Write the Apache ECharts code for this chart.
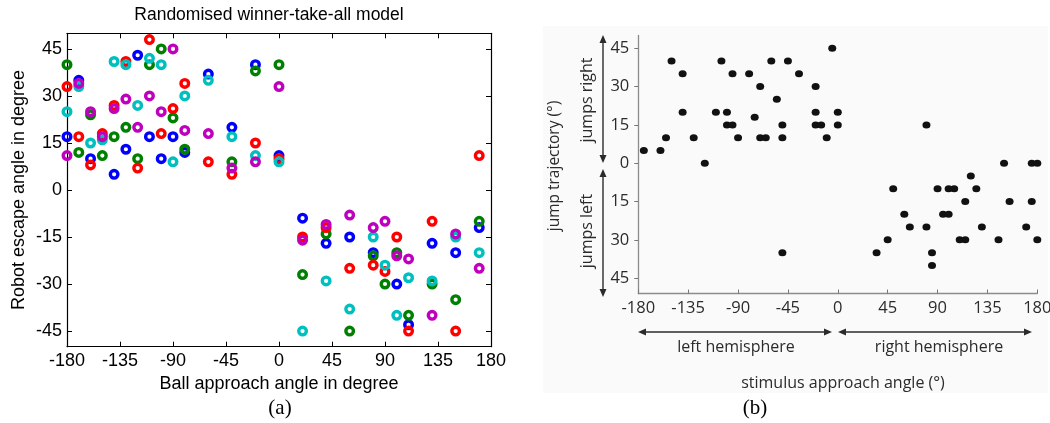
<!DOCTYPE html>
<html>
<head>
<meta charset="utf-8">
<script src="https://cdn.jsdelivr.net/npm/echarts@6/dist/echarts.min.js"></script>
<style>
  html, body { margin: 0; padding: 0; background: #fff; }
  #chart { width: 1050px; height: 423px; }
</style>
</head>
<body>
<div id="chart"></div>
<script>
// (a) Randomised winner-take-all model: [ball approach angle, robot escape angle], one run per colour
const runBlue = [[-180,17],[-170,35],[-160,10],[-140,5],[-130,13],[-120,43],[-110,17],[-100,10],[-90,17],[-80,12],[-60,37],[-40,20],[-20,40],[0,11],[20,-9],[40,-17],[60,-15],[80,-20],[100,-30],[110,-43],[130,-17],[150,-20],[170,-12]];
const runGreen = [[-180,40],[-170,12],[-160,24],[-150,11],[-140,17],[-130,20],[-120,10],[-110,40],[-100,45],[-90,23],[-80,13],[-40,9],[-20,38],[0,40],[20,-27],[40,-14],[60,-45],[80,-21],[90,-30],[100,-20],[110,-40],[130,-30],[150,-35],[170,-10]];
const runRed = [[-180,33],[-170,17],[-160,8],[-150,18],[-140,27],[-130,41],[-120,7],[-110,48],[-100,18],[-90,26],[-80,34],[-60,9],[-40,5],[-20,15],[0,10],[20,-15],[40,-12],[60,-25],[80,-24],[90,-26],[100,-15],[110,-45],[130,-10],[150,-45],[170,11]];
const runCyan = [[-180,25],[-170,33],[-160,15],[-150,16],[-140,41],[-130,40],[-120,27],[-110,42],[-100,40],[-90,9],[-80,30],[-60,35],[-40,17],[-20,11],[0,9],[20,-45],[40,-29],[60,-38],[80,-15],[90,-24],[100,-40],[110,-28],[130,-29],[150,-15],[170,-20]];
const runMagenta = [[-180,11],[-170,34],[-160,25],[-150,17],[-140,26],[-130,29],[-120,20],[-110,30],[-100,25],[-90,45],[-80,19],[-60,18],[-40,7],[-20,9],[0,33],[20,-16],[40,-11],[60,-8],[80,-12],[90,-10],[100,-21],[110,-22],[130,-40],[150,-14],[170,-25]];
const runs = [runBlue, runGreen, runRed, runCyan, runMagenta];
const runColors = ['#0000ff', '#008000', '#ff0000', '#00bfbf', '#bf00bf'];

// (b) jump trajectory against stimulus approach angle
const leftHemisphereJumps = [[-175,5],[-160,5],[-155,10],[-150,40],[-140,35],[-140,20],[-130,10],[-120,0],[-110,20],[-105,40],[-100,20],[-100,15],[-95,15],[-95,35],[-90,10],[-80,35],[-75,18],[-70,30],[-70,10],[-65,10],[-60,40],[-55,25],[-50,15],[-50,10],[-45,40],[-35,35],[-20,30],[-20,20],[-20,15],[-15,15],[-10,10],[-5,45],[0,20],[0,15],[-50,-35]];
const rightHemisphereJumps = [[35,-35],[45,-30],[50,-10],[60,-20],[65,-25],[80,-25],[80,15],[85,-35],[85,-40],[90,-10],[95,-20],[100,-20],[100,-10],[105,-10],[110,-30],[115,-30],[115,-15],[120,-5],[125,-10],[130,-25],[145,-30],[150,0],[155,-15],[170,-25],[175,0],[175,-15],[180,0],[180,-30]];

// Tick values and texts
const approachTicks = [-180, -135, -90, -45, 0, 45, 90, 135, 180];
const escapeTicks = [-45, -30, -15, 0, 15, 30, 45];
const trajectoryTicks = [-45, -30, -15, 0, 15, 30, 45];
const trajectoryTickLabels = ['45', '30', '15', '0', '15', '30', '45'];

const chart = echarts.init(document.getElementById('chart'), null, { renderer: 'canvas' });

const SANS_A = 'Liberation Sans, Arial, sans-serif';
const SANS_B = 'Open Sans, Noto Sans, sans-serif';
const INK_B = '#2b2b2b';

function boxAxis(extra) {
  return Object.assign({
    type: 'value',
    gridIndex: 0,
    axisLine: { show: true, onZero: false, lineStyle: { color: '#000', width: 1.2 } },
    axisTick: { show: true, inside: true, length: 5, lineStyle: { color: '#000', width: 1 } },
    axisLabel: { show: false },
    splitLine: { show: false }
  }, extra);
}

// Double-headed arrow drawn as a line with two filled heads
function doubleArrow(x1, y1, x2, y2) {
  const len = 8, half = 3.5;
  const dx = x2 - x1, dy = y2 - y1, d = Math.hypot(dx, dy);
  const ux = dx / d, uy = dy / d, px = -uy, py = ux;
  const head = (tx, ty, sx, sy) => ({
    type: 'polygon', silent: true,
    shape: { points: [[tx, ty],
      [tx - sx * len + px * half, ty - sy * len + py * half],
      [tx - sx * len - px * half, ty - sy * len - py * half]] },
    style: { fill: INK_B }
  });
  return [
    { type: 'line', silent: true,
      shape: { x1: x1 + ux * 4, y1: y1 + uy * 4, x2: x2 - ux * 4, y2: y2 - uy * 4 },
      style: { stroke: INK_B, lineWidth: 1.4 } },
    head(x2, y2, ux, uy),
    head(x1, y1, -ux, -uy)
  ];
}

function label(text, x, y, font, opts) {
  return Object.assign({
    type: 'text', silent: true, x: x, y: y,
    style: { text: text, font: font, fill: INK_B, align: 'center', verticalAlign: 'middle' }
  }, opts || {});
}

const graphic = [
  // soft panel backdrop of (b)
  { type: 'rect', silent: true, z: -10, shape: { x: 543, y: 26, width: 505, height: 367 }, style: { fill: '#fafafa' } },
  { type: 'text', silent: true, x: 269, y: 15,
    style: { text: 'Randomised winner-take-all model', font: '17.5px ' + SANS_A, fill: '#000', align: 'center', verticalAlign: 'middle' } },
  { type: 'text', silent: true, x: 280, y: 408,
    style: { text: '(a)', font: '21px Liberation Serif, Times New Roman, serif', fill: '#000', align: 'center', verticalAlign: 'middle' } },
  { type: 'text', silent: true, x: 755, y: 408,
    style: { text: '(b)', font: '21px Liberation Serif, Times New Roman, serif', fill: '#000', align: 'center', verticalAlign: 'middle' } },
  label('jump trajectory (°)', 555, 166, '15.5px ' + SANS_B, { rotation: Math.PI / 2 }),
  label('jumps right', 587, 100, '16px ' + SANS_B, { rotation: Math.PI / 2 }),
  label('jumps left', 587, 231, '16px ' + SANS_B, { rotation: Math.PI / 2 }),
  label('left hemisphere', 736, 347, '16px ' + SANS_B),
  label('right hemisphere', 939, 347, '16px ' + SANS_B),
  label('stimulus approach angle (°)', 843, 383, '16px ' + SANS_B)
].concat(
  doubleArrow(603, 35, 603, 163),
  doubleArrow(603, 169, 603, 297),
  doubleArrow(638, 332, 832, 332),
  doubleArrow(838, 332, 1032, 332)
);

const option = {
  animation: false,
  backgroundColor: '#fff',
  grid: [
    { left: 67, top: 33.3, width: 424, height: 313.4, outerBoundsMode: 'none' },
    { left: 638.3, top: 35.5, width: 399, height: 258, outerBoundsMode: 'none' }
  ],
  xAxis: [
    boxAxis({
      position: 'bottom', min: -180, max: 180, interval: 45,
      axisLabel: { show: true, margin: 5, fontSize: 18, fontFamily: SANS_A, color: '#000' },
      name: 'Ball approach angle in degree', nameLocation: 'middle', nameGap: 25,
      nameTextStyle: { fontSize: 18, fontFamily: SANS_A, color: '#000' }
    }),
    boxAxis({ position: 'top', min: -180, max: 180, interval: 45 }),
    {
      type: 'value', gridIndex: 1, position: 'bottom', min: -180, max: 180, interval: 45,
      axisLine: { show: true, onZero: false, lineStyle: { color: '#8c8c8c', width: 1.3 } },
      axisTick: { show: true, inside: true, length: 4, lineStyle: { color: '#777', width: 1 } },
      axisLabel: { show: true, margin: 6, fontSize: 16.5, fontFamily: SANS_B, color: INK_B,
        customValues: approachTicks },
      splitLine: { show: false }
    }
  ],
  yAxis: [
    boxAxis({
      position: 'left', min: -50, max: 50,
      axisTick: { show: true, inside: true, length: 5, lineStyle: { color: '#000', width: 1 }, customValues: escapeTicks },
      axisLabel: { show: true, margin: 5, fontSize: 18, fontFamily: SANS_A, color: '#000', customValues: escapeTicks },
      name: 'Robot escape angle in degree', nameLocation: 'middle', nameGap: 39,
      nameTextStyle: { fontSize: 18, fontFamily: SANS_A, color: '#000' }
    }),
    boxAxis({
      position: 'right', min: -50, max: 50,
      axisTick: { show: true, inside: true, length: 5, lineStyle: { color: '#000', width: 1 }, customValues: escapeTicks }
    }),
    {
      type: 'value', gridIndex: 1, position: 'left', min: -51, max: 50,
      axisLine: { show: true, onZero: false, lineStyle: { color: '#8c8c8c', width: 1.3 } },
      axisTick: { show: true, inside: false, length: 4, lineStyle: { color: '#777', width: 1 }, customValues: trajectoryTicks },
      axisLabel: { show: true, margin: 9, fontSize: 16.5, fontFamily: SANS_B, color: INK_B,
        customValues: trajectoryTicks,
        formatter: v => trajectoryTickLabels[trajectoryTicks.indexOf(v)] },
      splitLine: { show: false }
    }
  ],
  series: runs.map((run, i) => ({
    type: 'scatter', xAxisIndex: 0, yAxisIndex: 0,
    data: run,
    symbol: 'circle', symbolSize: 7.6,
    itemStyle: { color: 'rgba(0,0,0,0)', borderColor: runColors[i], borderWidth: 3.4, opacity: 1 },
    emphasis: { disabled: true }, silent: true
  })).concat([leftHemisphereJumps, rightHemisphereJumps].map(d => ({
    type: 'scatter', xAxisIndex: 2, yAxisIndex: 2,
    data: d,
    symbol: 'circle', symbolSize: [8, 7],
    itemStyle: { color: '#111', opacity: 1 },
    emphasis: { disabled: true }, silent: true
  }))),
  graphic: graphic
};

chart.setOption(option);
</script>
</body>
</html>
